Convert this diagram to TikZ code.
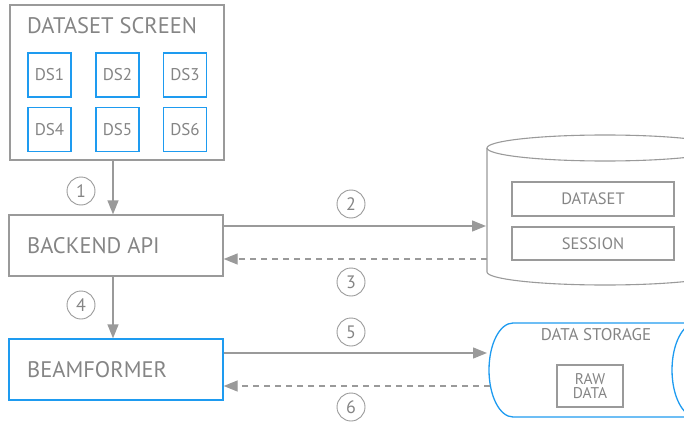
\documentclass[tikz,border=0pt]{standalone}
\usepackage{fontspec}
\setmainfont{PT Sans}
\usetikzlibrary{arrows.meta}
\definecolor{lgray}{HTML}{9A9A9A}
\definecolor{tgray}{HTML}{858585}
\definecolor{dblue}{HTML}{1E9BF0}
\tikzset{
  box/.style={draw=lgray, line width=1.3pt, inner sep=0pt},
  bluebox/.style={draw=dblue, line width=1.3pt, inner sep=0pt},
  dsbox/.style={bluebox, minimum width=43pt, minimum height=44pt, text=tgray, font=\fontsize{17}{17}\selectfont},
  numc/.style={draw=lgray, circle, line width=0.9pt, minimum size=28pt, inner sep=0pt, text=tgray, font=\fontsize{18}{18}\selectfont},
  conn/.style={draw=lgray, line width=1.3pt, -{Triangle[length=14pt,width=11pt]}},
  dconn/.style={conn, dash pattern=on 6pt off 5pt},
  lbl/.style={text=tgray, inner sep=0pt},
}
\begin{document}
\begin{tikzpicture}[x=1pt,y=1pt]
\clip (0,0) rectangle (684,421);
% Dataset screen
\node[box, minimum width=214pt, minimum height=155pt] (screen) at (117,338.5) {};
\node[lbl, anchor=west, font=\fontsize{22.5}{22.5}\selectfont] (screentitle) at (27,395) {DATASET SCREEN};
\node[dsbox] (ds1) at (49.5,346) {DS1};
\node[dsbox] (ds2) at (117.5,346) {DS2};
\node[dsbox] (ds3) at (185,346) {DS3};
\node[dsbox] (ds4) at (49.5,291.5) {DS4};
\node[dsbox] (ds5) at (117.5,291.5) {DS5};
\node[dsbox] (ds6) at (185,291.5) {DS6};
% Backend
\node[box, minimum width=214pt, minimum height=61pt] (backend) at (116,175.5) {};
\node[lbl, anchor=west, font=\fontsize{22.5}{22.5}\selectfont] (backendtxt) at (27,175.5) {BACKEND API};
% Beamformer
\node[bluebox, minimum width=214pt, minimum height=61pt] (beam) at (116,51.5) {};
\node[lbl, anchor=west, font=\fontsize{22.5}{22.5}\selectfont] (beamtxt) at (27,51.5) {BEAMFORMER};
% Database cylinder
\draw[lgray, line width=1.1pt, fill=white] (487,273) -- (487,149) arc[start angle=180, end angle=360, x radius=118, y radius=13] -- (723,273);
\draw[lgray, line width=1.1pt] (605,273) ellipse[x radius=118, y radius=13];
\node[box, line width=1.1pt, minimum width=162pt, minimum height=34pt, text=tgray, font=\fontsize{16.5}{16.5}\selectfont] (dataset) at (593,222) {DATASET};
\node[box, line width=1.1pt, minimum width=162pt, minimum height=33pt, text=tgray, font=\fontsize{16.5}{16.5}\selectfont] (session) at (593,177.5) {SESSION};
\coordinate (dbin) at (486,195);
\coordinate (dbout) at (487,162);
% Data storage
\draw[dblue, line width=1.3pt] (723,98) -- (513,98) arc[start angle=90, end angle=270, x radius=24, y radius=47] -- (723,4);
\draw[dblue, line width=1.3pt] (696,51) ellipse[x radius=24, y radius=47];
\node[lbl, font=\fontsize{17}{17}\selectfont] (storagetxt) at (596,86) {DATA STORAGE};
\node[box, line width=1.1pt, minimum width=66pt, minimum height=42pt, text=tgray, align=center, font=\fontsize{15.5}{14}\selectfont] (raw) at (590,35) {RAW\\DATA};
\coordinate (stin) at (487,68);
\coordinate (stout) at (490,35);
% Connectors
\draw[conn] (screen.south -| 113,0) -- (backend.north -| 113,0);
\draw[conn] (backend.south -| 113,0) -- (beam.north -| 113,0);
\draw[conn] (backend.east |- dbin) -- (dbin);
\draw[dconn] (dbout) -- (backend.east |- dbout);
\draw[conn] (beam.east |- stin) -- (stin);
\draw[dconn] (stout) -- (beam.east |- stout);
% Step numbers
\node[numc] (n1) at (81,230) {1};
\node[numc] (n4) at (81,116) {4};
\node[numc] (n2) at (351,217) {2};
\node[numc] (n3) at (351,139) {3};
\node[numc] (n5) at (351,89) {5};
\node[numc] (n6) at (351,14) {6};
\end{tikzpicture}
\end{document}
